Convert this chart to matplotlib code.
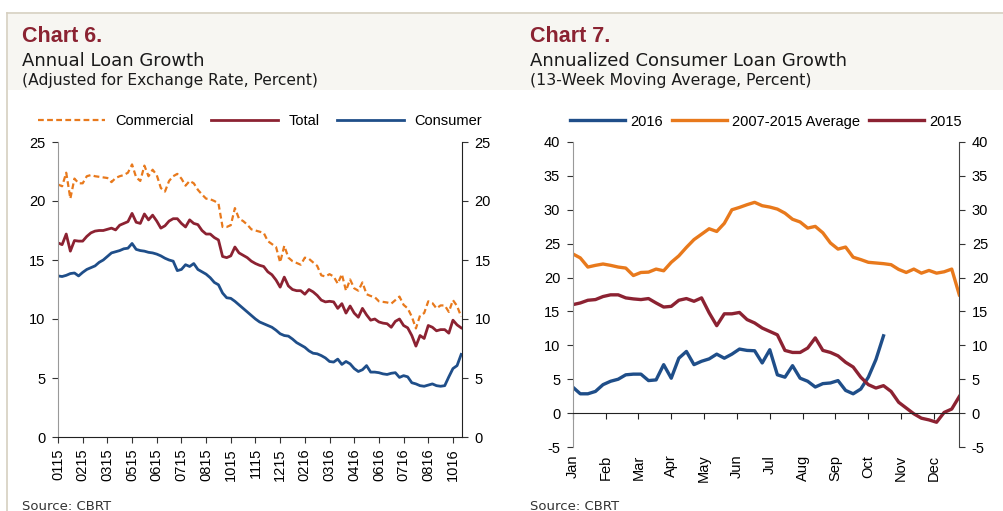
import matplotlib
matplotlib.use('Agg')
import matplotlib.pyplot as plt
import numpy as np
from matplotlib.patches import Rectangle
from matplotlib.lines import Line2D
import matplotlib.transforms as mtransforms

# Colors
ORANGE = '#E8791C'
RED = '#8C2232'
BLUE = '#1F4E89'
TITLE_RED = '#8B2332'
BAND = '#F7F6F2'
BORDER = '#D6CFC0'

# Chart 6 data (weekly, Jan 2015 - Oct 2016)
commercial = [21.4, 21.25, 22.4, 20.2, 21.9, 21.5, 21.5, 22.1, 22.2, 22.1,
              22.05, 22.0, 21.95, 21.6, 21.95, 22.1, 22.2, 22.4, 23.1, 22.0,
              21.7, 23.0, 22.1, 22.65, 22.2, 21.1, 20.8, 21.7, 22.1, 22.3,
              21.9, 21.3, 21.7, 21.5, 20.95, 20.55, 20.2, 20.15, 20.0, 19.8,
              17.8, 17.8, 17.95, 19.4, 18.5, 18.3, 18.0, 17.6, 17.5, 17.4,
              17.3, 16.6, 16.35, 16.1, 14.8, 16.2, 15.2, 14.9, 14.75, 14.6,
              15.2, 15.1, 14.8, 14.5, 13.7, 13.6, 13.8, 13.6, 13.0, 13.8,
              12.4, 13.35, 12.6, 12.4, 13.1, 12.1, 11.95, 11.85, 11.5, 11.45,
              11.4, 11.3, 11.6, 11.9, 11.2, 10.9, 10.2, 9.2, 10.3, 10.5,
              11.5, 11.35, 10.9, 11.15, 11.15, 10.6, 11.6, 11.1, 10.2]
total = [16.45, 16.3, 17.2, 15.75, 16.65, 16.6, 16.6, 17.0, 17.3, 17.45,
         17.5, 17.5, 17.6, 17.7, 17.55, 17.95, 18.1, 18.25, 18.95, 18.2,
         18.1, 18.9, 18.4, 18.8, 18.3, 17.7, 17.9, 18.3, 18.5, 18.5,
         18.1, 17.8, 18.4, 18.1, 18.0, 17.5, 17.2, 17.2, 16.9, 16.7,
         15.3, 15.2, 15.35, 16.1, 15.6, 15.4, 15.2, 14.9, 14.7, 14.55,
         14.45, 14.0, 13.75, 13.3, 12.7, 13.55, 12.8, 12.5, 12.4, 12.4,
         12.1, 12.5, 12.3, 12.0, 11.6, 11.45, 11.5, 11.45, 10.9, 11.3,
         10.5, 11.1, 10.5, 10.15, 10.9, 10.35, 9.9, 10.0, 9.75, 9.65,
         9.6, 9.3, 9.8, 10.0, 9.45, 9.25, 8.6, 7.7, 8.6, 8.35,
         9.45, 9.3, 9.0, 9.1, 9.1, 8.8, 9.9, 9.5, 9.25]
consumer = [13.65, 13.6, 13.7, 13.85, 13.9, 13.65, 13.95, 14.2, 14.35, 14.5,
            14.8, 15.0, 15.3, 15.6, 15.7, 15.8, 15.95, 16.0, 16.4, 15.9,
            15.8, 15.75, 15.65, 15.6, 15.5, 15.35, 15.15, 15.0, 14.9, 14.1,
            14.2, 14.6, 14.45, 14.7, 14.2, 14.0, 13.8, 13.5, 13.1, 12.9,
            12.2, 11.8, 11.75, 11.5, 11.2, 10.9, 10.6, 10.3, 10.0, 9.75,
            9.6, 9.45, 9.3, 9.05, 8.75, 8.6, 8.55, 8.3, 8.0, 7.8,
            7.6, 7.3, 7.1, 7.05, 6.9, 6.7, 6.4, 6.35, 6.6, 6.15,
            6.4, 6.2, 5.8, 5.55, 5.7, 6.05, 5.5, 5.5, 5.45, 5.35,
            5.3, 5.4, 5.45, 5.05, 5.2, 5.1, 4.6, 4.5, 4.35, 4.3,
            4.4, 4.5, 4.35, 4.3, 4.35, 5.1, 5.8, 6.05, 7.0]
date_labels = ['0115', '0215', '0315', '0515', '0615', '0715', '0815', '1015', '1115',
               '1215', '0216', '0316', '0416', '0616', '0716', '0816', '1016']

# Chart 7 data (weekly)
avg_0715 = [23.5, 22.9, 21.55, 21.8, 22.0, 21.8, 21.55, 21.4, 20.3, 20.75,
            20.8, 21.25, 21.0, 22.25, 23.2, 24.45, 25.6, 26.4, 27.2, 26.8,
            28.0, 30.0, 30.35, 30.75, 31.1, 30.6, 30.4, 30.1, 29.5, 28.6,
            28.2, 27.3, 27.55, 26.6, 25.1, 24.2, 24.5, 23.0, 22.65, 22.25,
            22.15, 22.05, 21.9, 21.2, 20.75, 21.25, 20.65, 21.05, 20.65, 20.85,
            21.25, 17.45]
y2015 = [16.0, 16.25, 16.65, 16.75, 17.2, 17.45, 17.45, 17.0, 16.85, 16.75,
         16.9, 16.25, 15.65, 15.75, 16.65, 16.9, 16.5, 17.0, 14.8, 12.9,
         14.65, 14.65, 14.85, 13.8, 13.3, 12.55, 12.05, 11.55, 9.25, 8.95,
         8.95, 9.6, 11.1, 9.25, 8.95, 8.45, 7.5, 6.8, 5.3, 4.2,
         3.7, 4.05, 3.2, 1.6, 0.75, -0.1, -0.75, -1.0, -1.35, 0.1,
         0.6, 2.45]
y2016 = [3.85, 2.85, 2.85, 3.2, 4.2, 4.7, 5.0, 5.65, 5.75, 5.75,
         4.8, 4.9, 7.15, 5.15, 8.1, 9.1, 7.15, 7.65, 8.0, 8.7,
         8.1, 8.7, 9.45, 9.25, 9.2, 7.4, 9.35, 5.65, 5.3, 7.0,
         5.15, 4.7, 3.85, 4.35, 4.45, 4.8, 3.35, 2.85, 3.55, 5.3,
         7.9, 11.4]
months = ['Jan', 'Feb', 'Mar', 'Apr', 'May', 'Jun', 'Jul', 'Aug', 'Sep', 'Oct', 'Nov', 'Dec']

plt.rcParams['font.family'] = ['Liberation Sans', 'DejaVu Sans']
plt.rcParams['axes.unicode_minus'] = False
TITLE_FONT = 'DejaVu Sans'

fig = plt.figure(figsize=(10.04, 5.11), dpi=100)

# panel frame and title band
fig.patches.append(Rectangle((8 / 1004, 1 - 90 / 511), 1, 76 / 511, transform=fig.transFigure,
                             facecolor=BAND, edgecolor='none', zorder=0))
fig.add_artist(Line2D([7 / 1004, 1], [1 - 13 / 511] * 2, transform=fig.transFigure, color=BORDER, lw=1.2))
fig.add_artist(Line2D([7 / 1004] * 2, [0, 1 - 13 / 511], transform=fig.transFigure, color=BORDER, lw=1.2))


def titles(x, num, title, sub, sub_size):
    fig.text(x / 1004, 1 - 36 / 511, num, color=TITLE_RED, fontsize=15.5, fontweight='bold',
             va='center', ha='left', family='Liberation Sans')
    fig.text(x / 1004, 1 - 61 / 511, title, color='#1a1a1a', fontsize=13, va='center', ha='left',
             family=TITLE_FONT)
    fig.text(x / 1004, 1 - 81 / 511, sub, color='#1a1a1a', fontsize=sub_size, va='center', ha='left',
             family=TITLE_FONT)
    fig.text(x / 1004, 1 - 500 / 511, 'Source: CBRT', color='#333333', fontsize=9.5, va='top',
             ha='left', family=TITLE_FONT)


titles(22, 'Chart 6.', 'Annual Loan Growth', '(Adjusted for Exchange Rate, Percent)', 11.2)
titles(530, 'Chart 7.', 'Annualized Consumer Loan Growth', '(13-Week Moving Average, Percent)', 11.3)

# ---- Chart 6 ----
ax1 = fig.add_axes([58 / 1004, 74 / 511, 404 / 1004, 295 / 511])
weeks = np.arange(len(total))
ax1.plot(weeks, commercial, color=ORANGE, lw=1.6, ls=(0, (2.6, 1.5)), label='Commercial')
ax1.plot(weeks, total, color=RED, lw=2.0, label='Total')
ax1.plot(weeks, consumer, color=BLUE, lw=2.0, label='Consumer')
ax1.set_xlim(0, 98.2)
ax1.set_ylim(0, 25)
ax1.set_yticks(range(0, 26, 5))
ax1.set_xticks(np.arange(0, 97, 6))
ax1.set_xticklabels(date_labels, rotation=90, fontsize=10.5)
ax1.tick_params(axis='y', labelsize=10.5, labelright=True, right=True, direction='out',
                length=4, pad=5, color='#333333')
ax1.tick_params(axis='x', direction='out', length=4, pad=4, color='#333333')
ax1.spines['top'].set_visible(False)
ax1.spines['left'].set_color('#999999')
ax1.spines['right'].set_color('#222222')
ax1.spines['bottom'].set_color('#222222')
ax1.legend(loc='lower center', bbox_to_anchor=(0.5, 1.028), ncol=3, frameon=False,
           fontsize=10.5, handlelength=4.6, columnspacing=1.2, handletextpad=0.7,
           borderaxespad=0)

# ---- Chart 7 ----
ax2 = fig.add_axes([572.7 / 1004, 64 / 511, 386.6 / 1004, 305 / 511])
w2 = np.arange(len(avg_0715))
ax2.plot(np.arange(len(y2016)), y2016, color=BLUE, lw=2.4, label='2016')
ax2.plot(w2, avg_0715, color=ORANGE, lw=2.4, label='2007-2015 Average')
ax2.plot(w2, y2015, color=RED, lw=2.4, label='2015')
ax2.set_xlim(0, 51)
ax2.set_ylim(-5, 40)
ax2.set_yticks(range(-5, 41, 5))
ax2.tick_params(axis='y', labelsize=10.5, labelright=True, right=True, direction='out',
                length=4, pad=5, color='#333333')
month_pos = np.arange(12) * 52 / 12
ax2.set_xticks(month_pos)
ax2.set_xticklabels([])
ax2.tick_params(axis='x', direction='out', length=4, color='#222222')
ax2.spines['bottom'].set_position(('data', 0))
ax2.spines['top'].set_visible(False)
ax2.spines['left'].set_color('#999999')
ax2.spines['right'].set_color('#444444')
ax2.spines['bottom'].set_color('#222222')
trans = mtransforms.blended_transform_factory(ax2.transData, ax2.transAxes)
for pos, m in zip(month_pos, months):
    ax2.text(pos, -0.025, m, transform=trans, rotation=90, ha='center', va='top', fontsize=10.5)
ax2.legend(loc='lower center', bbox_to_anchor=(0.5, 1.025), ncol=3, frameon=False,
           fontsize=10.5, handlelength=3.8, columnspacing=0.6, handletextpad=0.35,
           borderaxespad=0)

fig.savefig('out.png', dpi=100)
